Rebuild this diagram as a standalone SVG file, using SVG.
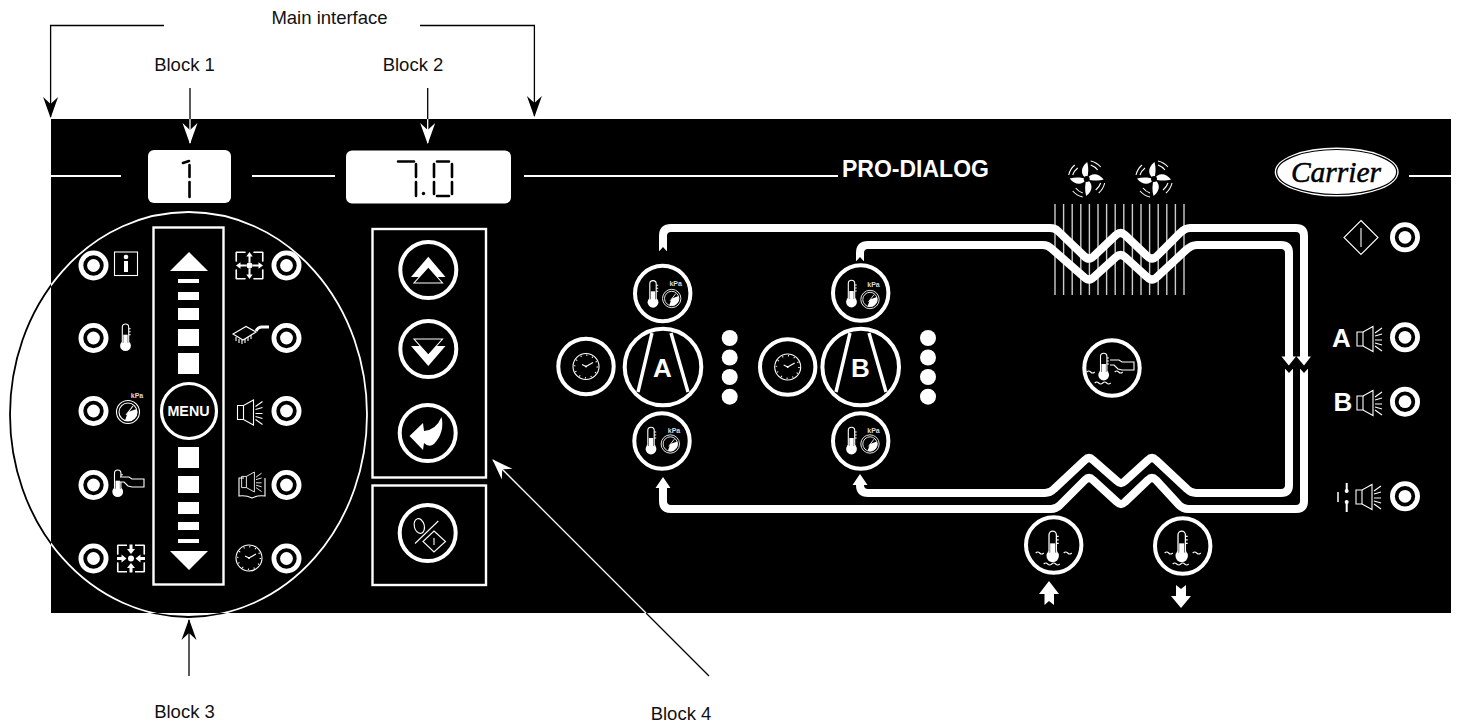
<svg xmlns="http://www.w3.org/2000/svg" width="1457" height="723" viewBox="0 0 1457 723">
<style>
text{font-family:"Liberation Sans",Arial,sans-serif}
.lab{font-size:18.5px;fill:#111}
.b{font-weight:bold;fill:#fff}
.kpa{font-size:7px;font-weight:bold;fill:#ddd}
.w{fill:#fff}
.k{fill:#000}
.ring{fill:#000;stroke:#fff;stroke-width:4}
.thin{fill:none;stroke:#fff;stroke-width:1.1}
.thinb{fill:#000;stroke:#fff;stroke-width:1.1}
.box{fill:#000;stroke:#fff;stroke-width:2.4}
.pipe{fill:none;stroke:#fff;stroke-width:8;stroke-linejoin:round}
.lk{fill:none;stroke:#000;stroke-width:1.3}
.lw{fill:none;stroke:#fff;stroke-width:1.3}
.seg{fill:none;stroke:#000;stroke-width:2.6;stroke-linecap:round}
.fin{stroke:#ccc;stroke-width:1.4}
</style>
<defs>
<clipPath id="panelClip"><rect x="51" y="119" width="1400" height="494"/></clipPath>
<marker id="hk" markerUnits="userSpaceOnUse" markerWidth="24" markerHeight="20" refX="20" refY="10" orient="auto"><path d="M0,2.500 L21,10 L0,17.500 L7,10Z" fill="#000"/></marker>
<marker id="hw" markerUnits="userSpaceOnUse" markerWidth="24" markerHeight="20" refX="20" refY="10" orient="auto"><path d="M0,2.500 L21,10 L0,17.500 L7,10Z" fill="#fff"/></marker>
<g id="led"><circle r="12.600" fill="#000" stroke="#fff" stroke-width="4.800"/><circle r="6.400" fill="#fff"/></g>
<g id="thermo"><circle r="5.400" class="w"/><path d="M-3.200,-3 V-18.500 a3.200,3.200 0 0 1 6.400,0 V-3" class="thinb"/><rect x="-2.200" y="-11" width="4.400" height="10" class="w"/><path d="M3.200,-17 h2 M3.200,-14 h2 M3.200,-11 h2" class="thin"/></g>
<g id="gauge"><circle r="11.500" class="thin"/><circle r="9" class="thin"/><path d="M0,0 L8.500,-3 A9,9 0 0 1 -3,8.500 Z" class="w"/><path d="M-2,3 L5,-6" class="thin"/></g>
<g id="clock"><circle r="13" class="thin"/><circle r="11.300" fill="none" stroke="#fff" stroke-width="1.500" stroke-dasharray="1 4.920"/><path d="M0,0 L-4,-2 M0,0 L7,-4" class="thin"/><circle r="1" class="w"/></g>
<g id="speaker"><path d="M-13,-7 H-7 L3,-12.500 V12.500 L-7,7 H-13Z" class="thinb"/><path d="M-7,-7 V7" class="thin"/><path d="M5,-6 L12,-11 M5,-3 L12,-5 M5,1 L12,1 M5,4 L12,6 M5,7 L12,12" class="thin"/></g>
<g id="hand"><path d="M0,1 H9 L12,3 H24 V11 H12 L8,10 L4,6 H0" class="thinb"/></g>
<g id="blade"><path d="M0,0 C-6,-4 -7,-11 0.500,-17 C2,-12 2,-5 0,0Z" class="w"/><path d="M4,-14 A15,15 0 0 1 11,-9 M4,-18 A19,19 0 0 1 14,-12" class="thin"/></g>
<g id="fan"><use href="#blade"/><use href="#blade" transform="rotate(90)"/><use href="#blade" transform="rotate(180)"/><use href="#blade" transform="rotate(270)"/><circle r="3" class="k"/></g>
<g id="armOut"><path d="M-13,-4 V-13.500 H-4 M4,-13.500 H13 V-4" class="thin"/><path d="M-1,-3 V-9 H-3.200 L0,-13.500 L3.200,-9 H1 V-3Z" class="w"/></g>
<g id="armIn"><path d="M-13,-4 V-13.500 H-4 M4,-13.500 H13 V-4" class="thin"/><path d="M-1.500,-14 V-9.500 H-4 L0,-4.500 L4,-9.500 H1.500 V-14Z" class="w"/></g>
<g id="water"><path d="M-17,0 q2,-2 4,0 t4,0 M11,0 q2,-2 4,0 t4,0 M-9,11 q2,-2 4,0 t4,0 t4,0 t4,0" class="thin"/></g>
</defs>

<g id="panel"><rect x="51" y="119" width="1400" height="494" fill="#000"/></g>

<g id="connectors">
<path d="M164,25.500 H50.600 V117" class="lk" marker-end="url(#hk)"/>
<path d="M420,25.500 H534.400 V116" class="lk" marker-end="url(#hk)"/>
<path d="M190,88 V119" class="lk"/><path d="M190,119 V143" class="lw" marker-end="url(#hw)"/>
<path d="M427.700,88 V119" class="lk"/><path d="M427.700,119 V143" class="lw" marker-end="url(#hw)"/>
<path d="M189,676 V620" class="lk" marker-end="url(#hk)"/>
<path d="M709,676 L646,613" class="lk"/><path d="M646,613 L493,460" class="lw" marker-end="url(#hw)"/>
<path d="M51,176 H121 M252,176 H335 M524,176 H838 M1409,176 H1451" fill="none" stroke="#fff" stroke-width="2"/>
<g id="fins"><path class="fin" d="M1055,204V295M1063.600,204V295M1072.200,204V295M1080.800,204V295M1089.400,204V295M1098,204V295M1106.600,204V295M1115.200,204V295M1123.800,204V295M1132.400,204V295M1141,204V295M1149.600,204V295M1158.200,204V295M1166.800,204V295M1175.400,204V295M1184,204V295"/></g>
<path class="pipe" d="M663,251 V236 Q663,228 671,228 H1050 Q1055,228 1058,231 L1084,256 Q1089,261 1094,256 L1116,235 Q1120.700,231 1125,235 L1147,256 Q1152,261 1157,256 L1180,233 Q1185,228 1190,228 H1296 Q1304,228 1304,236 V358"/>
<path class="pipe" d="M860,261 V253 Q860,245 868,245 H1043 Q1048,245 1052,249 L1084,277 Q1089,282 1094,277 L1116,257 Q1120.700,253 1125,257 L1147,277 Q1152,282 1157,277 L1186,250 Q1191.500,245 1197,245 H1281 Q1289,245 1289,253 V358"/>
<path class="pipe" d="M1304,369 V501 Q1304,509 1296,509 H1188 Q1183,509 1179,505 L1156,480 Q1152,476 1148,480 L1125,502 Q1121,506 1117,502 L1093,480 Q1089,476 1085,480 L1060,505 Q1056,509 1051,509 H671 Q663,509 663,501 V487"/>
<path class="pipe" d="M1289,369 V485 Q1289,493 1281,493 H1196 Q1191,493 1187,489 L1156,460 Q1152,456 1148,460 L1125,481 Q1121,485 1117,481 L1093,460 Q1089,456 1085,460 L1054,489 Q1050,493 1045,493 H868 Q860,493 860,485 V484"/>
<path class="k" d="M658.500,252 L663,247 L667.500,252Z M855.500,262 L860,257 L864.500,262Z"/>
<path class="k" d="M1284.500,368 L1289,373 L1293.500,368Z M1299.500,368 L1304,373 L1308.500,368Z"/>
<path class="w" d="M1281.500,356.500 H1296 L1288.800,365.500Z M1296.500,356.500 H1311 L1304,365.500Z"/>
<path class="w" d="M655.500,488 H670.500 L663,477Z M852.500,485 H867.500 L860,474Z"/>
</g>

<g id="block3-outline"><ellipse cx="188.500" cy="414.500" rx="178.500" ry="202.500" fill="none" stroke="#000" stroke-width="1.800"/><ellipse cx="188.500" cy="414.500" rx="178.500" ry="202.500" fill="none" stroke="#fff" stroke-width="1.800" clip-path="url(#panelClip)"/></g>

<g id="display1"><rect x="148" y="150" width="83" height="53" rx="6" class="w"/><path class="seg" d="M183,163 L189,161 M189.500,165 V177 M189.500,182 V197"/></g>
<g id="display2"><rect x="346" y="150.500" width="165" height="53" rx="6" class="w"/><path class="seg" d="M398,161.500 H414 M416,164 V177 M416,182 V196 M434,164 V177 M434,182 V194 M437,161.500 H449 M452,164 V177 M452,182 V194 M437,196 H449"/><circle cx="423.500" cy="193.500" r="1.700" class="k"/></g>

<g id="menu-bar"><rect x="153.500" y="227.500" width="70" height="357" class="box"/>
<path class="w" d="M189,252 L208,271 H170Z M189,570 L208,551 H170Z"/>
<path class="w" d="M178,279h21v4h-21zM178,292h21v8h-21zM178,308h21v12h-21zM178,329h21v17h-21zM178,353h21v21h-21zM178,447h21v21h-21zM178,476h21v17h-21zM178,502h21v12h-21zM178,522h21v8h-21zM178,539h21v4h-21z"/>
<circle cx="189" cy="411" r="27.500" fill="#000" stroke="#fff" stroke-width="3.200"/>
<text x="188.500" y="415.500" text-anchor="middle" class="b" font-size="14.300">MENU</text></g>

<g id="led-info"><use href="#led" x="93.500" y="265.500"/><rect x="114.500" y="252" width="23" height="23.500" class="thinb"/><circle cx="126" cy="257" r="2.300" class="w"/><rect x="124" y="261" width="4" height="11" class="w"/></g>
<g id="led-temp"><use href="#led" x="93.500" y="338"/><use href="#thermo" x="125.500" y="345.700"/></g>
<g id="led-pressure"><use href="#led" x="93.500" y="411"/><use href="#gauge" x="128" y="412"/><text x="137" y="398" text-anchor="middle" class="kpa">kPa</text></g>
<g id="led-setpoint"><use href="#led" x="93.500" y="485"/><use href="#thermo" x="117.700" y="491.700"/><use href="#hand" x="120" y="476"/></g>
<g id="led-in"><use href="#led" x="93.500" y="558.500"/><g transform="translate(131,558.500)"><use href="#armIn"/><use href="#armIn" transform="rotate(90)"/><use href="#armIn" transform="rotate(180)"/><use href="#armIn" transform="rotate(270)"/><circle r="3" class="w"/></g></g>

<g id="led-out"><use href="#led" x="286.500" y="265.500"/><g transform="translate(249.500,265.500)"><use href="#armOut"/><use href="#armOut" transform="rotate(90)"/><use href="#armOut" transform="rotate(180)"/><use href="#armOut" transform="rotate(270)"/><circle r="3" class="w"/></g></g>
<g id="led-chip"><use href="#led" x="286.500" y="338"/><path d="M233,334 L246,326.500 L256,332 L243,340Z" class="thinb"/><path d="M236,337 l0,4 M239,339 l0,4 M242,340 l0,4 M245,339 l0,4 M248,337 l0,4 M251,335 l0,4" class="thin"/><path d="M256,331 Q258,327 262,327 H269" fill="none" stroke="#fff" stroke-width="3"/></g>
<g id="led-alarm"><use href="#led" x="286.500" y="411"/><use href="#speaker" x="250.500" y="412.500"/></g>
<g id="led-book"><use href="#led" x="286.500" y="485"/><use href="#speaker" transform="translate(252,482) scale(.8)"/><path d="M244,478 H239 V496 Q246,495 252,498 Q258,495 265,496 V478" class="thin"/></g>
<g id="led-clock"><use href="#led" x="286.500" y="558.500"/><use href="#clock" x="249" y="558"/></g>

<g id="block4-box"><rect x="372.500" y="229" width="113.500" height="248.500" class="box"/></g>
<g id="btn-up"><circle cx="428.300" cy="270" r="28" class="ring"/><path class="w" d="M428.300,256.700 L445.500,277 H411Z"/><path d="M428.300,267 L442.500,283 H414Z" class="thinb" stroke-width="1.200"/></g>
<g id="btn-down"><circle cx="428.300" cy="349" r="28" class="ring"/><path class="w" d="M428.300,366 L445.500,346 H411Z"/><path d="M428.300,355 L442.500,339 H414Z" class="thinb" stroke-width="1.200"/></g>
<g id="btn-enter"><circle cx="427.700" cy="433" r="28" class="ring"/><path class="w" d="M409.500,436 L423,423 L424,431 Q436,430 441.500,417 Q445,432 434,444 Q429,448 424,443 L423,450Z"/></g>
<g id="block4b-box"><rect x="372.500" y="485.500" width="113.500" height="99.500" class="box"/></g>
<g id="btn-percent"><circle cx="427.700" cy="533" r="28" class="ring"/><ellipse cx="419.300" cy="526" rx="5" ry="7.500" transform="rotate(-15 419.300 526)" class="thin"/><path d="M415,543.500 L438.300,521" class="thin"/><path d="M434,531 L445.500,541.500 L434,552 L423,541.500Z" class="thinb"/><path d="M434,538 V545" class="thin"/></g>

<g id="clock-a"><circle cx="586" cy="366.500" r="27.700" class="ring"/><use href="#clock" x="586" y="366.500"/></g>
<g id="comp-a"><circle cx="663" cy="367" r="38.300" class="ring"/><path d="M652,333 L638,392 M671,333 L688,392" fill="none" stroke="#fff" stroke-width="3.400"/><text x="662.500" y="377" text-anchor="middle" class="b" font-size="26">A</text></g>
<g id="sens-a-top"><circle cx="662.700" cy="293.500" r="27.700" class="ring"/><use href="#thermo" x="653" y="302.300"/><use href="#gauge" transform="translate(671.700,298.500) scale(.8)"/><text x="675.700" y="286" text-anchor="middle" class="kpa">kPa</text></g>
<g id="sens-a-bot"><circle cx="662" cy="441" r="27.700" class="ring"/><use href="#thermo" x="651" y="449"/><use href="#gauge" transform="translate(670.300,444) scale(.8)"/><text x="674" y="433" text-anchor="middle" class="kpa">kPa</text></g>
<g id="leds-a"><circle cx="729.700" cy="338" r="8" class="w"/><circle cx="729.700" cy="357.500" r="8" class="w"/><circle cx="729.700" cy="377" r="8" class="w"/><circle cx="729.700" cy="396.700" r="8" class="w"/></g>

<g id="clock-b"><circle cx="787.700" cy="367" r="27.700" class="ring"/><use href="#clock" x="787.700" y="367"/></g>
<g id="comp-b"><circle cx="860.700" cy="367" r="38.300" class="ring"/><path d="M850,333 L836,392 M869,333 L886,392" fill="none" stroke="#fff" stroke-width="3.400"/><text x="860.500" y="377" text-anchor="middle" class="b" font-size="26">B</text></g>
<g id="sens-b-top"><circle cx="860.700" cy="293" r="27.700" class="ring"/><use href="#thermo" x="851.500" y="302"/><use href="#gauge" transform="translate(870,299.500) scale(.8)"/><text x="873.500" y="287" text-anchor="middle" class="kpa">kPa</text></g>
<g id="sens-b-bot"><circle cx="860.700" cy="441" r="27.700" class="ring"/><use href="#thermo" x="851.500" y="449"/><use href="#gauge" transform="translate(870,444) scale(.8)"/><text x="873.500" y="433" text-anchor="middle" class="kpa">kPa</text></g>
<g id="leds-b"><circle cx="928" cy="338" r="8" class="w"/><circle cx="928" cy="357.500" r="8" class="w"/><circle cx="928" cy="377" r="8" class="w"/><circle cx="928" cy="396.700" r="8" class="w"/></g>

<g id="pro-dialog"><text x="842" y="177" class="b" font-size="23">PRO-DIALOG</text></g>
<g id="fan1"><use href="#fan" x="1086.700" y="179"/></g>
<g id="fan2"><use href="#fan" x="1154" y="179"/></g>
<g id="carrier"><ellipse cx="1336.700" cy="172" rx="62" ry="24.500" class="w"/><ellipse cx="1336.700" cy="172" rx="60" ry="22.500" fill="none" stroke="#000" stroke-width="1.200"/><text x="1336" y="182" text-anchor="middle" font-size="29.500" font-style="italic" fill="#000" stroke="#000" stroke-width=".5" style="font-family:'Liberation Serif',serif">Carrier</text></g>

<g id="led-start"><use href="#led" x="1405" y="237.300"/><path d="M1361,220.500 L1378,237.500 L1361,254.500 L1344,237.500Z" class="thinb"/><path d="M1361,228 V247" class="thin"/></g>
<g id="led-a"><use href="#led" x="1405" y="337.300"/><text x="1341.500" y="346.500" text-anchor="middle" class="b" font-size="26">A</text><use href="#speaker" x="1370" y="339"/></g>
<g id="led-b"><use href="#led" x="1405" y="401.700"/><text x="1343" y="410.500" text-anchor="middle" class="b" font-size="26">B</text><use href="#speaker" x="1370" y="403"/></g>
<g id="led-fault"><use href="#led" x="1405" y="496.300"/><use href="#speaker" x="1369" y="497"/><path d="M1338,492 V502" stroke="#fff" stroke-width="1.500"/><path d="M1346.700,483 V492 M1346.700,501 V512" stroke="#fff" stroke-width="2"/><circle cx="1346.700" cy="491" r="2" class="w"/><circle cx="1346.700" cy="502" r="2" class="w"/></g>

<g id="hand-sensor"><circle cx="1112" cy="368" r="27.700" class="ring"/><use href="#thermo" x="1103.700" y="375"/><use href="#water" x="1103.700" y="372"/><use href="#hand" x="1110" y="359"/></g>
<g id="water-in"><circle cx="1053.700" cy="545" r="27.700" class="ring"/><use href="#water" x="1052.700" y="553"/><use href="#thermo" transform="translate(1052.700,556) scale(1.150)"/><path class="w" d="M1039,594 L1049,581 L1059,594 H1054 V605 L1049,601 L1044.500,605 V594Z"/></g>
<g id="water-out"><circle cx="1182.700" cy="546" r="27.700" class="ring"/><use href="#water" x="1181.700" y="553"/><use href="#thermo" transform="translate(1181.700,556) scale(1.150)"/><path class="w" d="M1176,585 L1181,589 L1186,585 V596 H1191 L1181,608 L1171,596 H1176Z"/></g>

<g id="labels">
<text x="329.500" y="23.500" text-anchor="middle" class="lab">Main interface</text>
<text x="184.500" y="70.500" text-anchor="middle" class="lab">Block 1</text>
<text x="413" y="70.500" text-anchor="middle" class="lab">Block 2</text>
<text x="184.500" y="718" text-anchor="middle" class="lab">Block 3</text>
<text x="681" y="720" text-anchor="middle" class="lab">Block 4</text>
</g>
</svg>
